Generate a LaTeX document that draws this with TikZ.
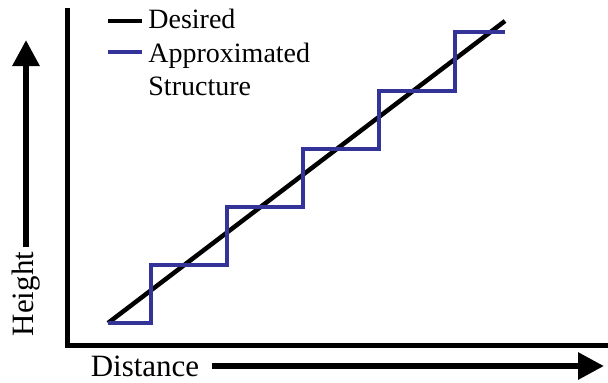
\documentclass[tikz,border=0pt]{standalone}
\usepackage{fontspec}
\setmainfont{Liberation Serif}
\usetikzlibrary{arrows.meta}
\definecolor{stairblue}{RGB}{51,51,153}

\begin{document}
\begin{tikzpicture}[x=0.5pt,y=-0.5pt]
			\tikzset{
				axis/.style={line width=2.5pt},
				bigarrow/.style={line width=3pt,-{Triangle[length=13pt,width=13pt]}},
				desired/.style={line width=2.25pt},
				stair/.style={color=stairblue,line width=2pt},
				axlabel/.style={inner sep=0pt,font=\fontsize{15.5}{18}\selectfont},
				legend/.style={inner sep=0pt,anchor=base west,font=\fontsize{14}{16}\selectfont}
			}
			\useasboundingbox (0,0) rectangle (608,382);
			% axes
			\draw[axis] (67,8) -- (67,345) -- (608,345);
			\node[axlabel,rotate=90] (height) at (26,294) {Height};
			\coordinate (htop) at (26,40);
			\draw[bigarrow,shorten <=2pt] (height.east) -- (htop);
			\node[axlabel] (dist) at (145,366) {Distance};
			\coordinate (dtip) at (604,366);
			\draw[bigarrow,shorten <=6pt] (dist.east) -- (dtip);
			% desired and approximated
			\draw[desired] (108,323) -- (505,21);
			\draw[stair] (108,323) -| (151,265) -| (227,207) -| (303,149) -| (379,91) -| (455,32) -- (505,32);
			% legend
			\draw[desired] (108,21) -- (142,21);
			\draw[stair] (108,52) -- (142,52);
			\node[legend] (des) at (148,28) {Desired};
			\node[legend] (app) at (148,62) {Approximated};
			\node[legend] (str) at (148,95) {Structure};
		\end{tikzpicture}
\end{document}
